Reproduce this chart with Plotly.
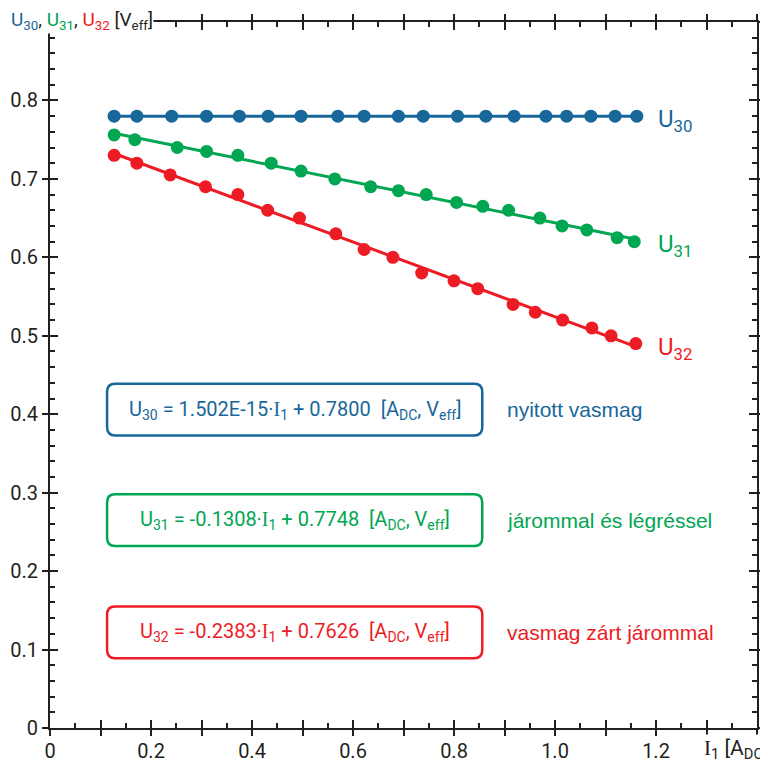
import plotly.graph_objects as go

# ---- data ----
x_u30 = [0.127, 0.172, 0.241, 0.310, 0.375, 0.432, 0.497, 0.570, 0.622, 0.690,
         0.739, 0.807, 0.863, 0.919, 0.982, 1.023, 1.071, 1.119, 1.162]
y_u30 = [0.780] * 19
x_u31 = [0.127, 0.168, 0.252, 0.310, 0.372, 0.438, 0.497, 0.564, 0.635, 0.690,
         0.745, 0.805, 0.857, 0.908, 0.970, 1.014, 1.063, 1.123, 1.157]
y_u31 = [0.756, 0.750, 0.740, 0.735, 0.730, 0.720, 0.710, 0.700, 0.690, 0.685,
         0.680, 0.670, 0.665, 0.660, 0.650, 0.640, 0.635, 0.625, 0.620]
x_u32 = [0.127, 0.172, 0.238, 0.308, 0.372, 0.431, 0.494, 0.566, 0.622, 0.679,
         0.736, 0.800, 0.847, 0.917, 0.961, 1.015, 1.073, 1.111, 1.160]
y_u32 = [0.730, 0.720, 0.705, 0.690, 0.680, 0.660, 0.650, 0.630, 0.610, 0.600,
         0.580, 0.570, 0.560, 0.540, 0.530, 0.520, 0.510, 0.500, 0.490]

series_names = ["30", "31", "32"]
slopes = [1.502e-15, -0.1308, -0.2383]
intercepts = [0.7800, 0.7748, 0.7626]
slope_text = ["1.502E-15", "-0.1308", "-0.2383"]
intercept_text = ["0.7800", "0.7748", "0.7626"]
descriptions = ["nyitott vasmag", "járommal és légréssel", "vasmag zárt járommal"]

x_tickvals = [0, 0.1, 0.2, 0.3, 0.4, 0.5, 0.6, 0.7, 0.8, 0.9, 1.0, 1.1, 1.2, 1.3, 1.4]
x_ticktext = ["0", "", "0.2", "", "0.4", "", "0.6", "", "0.8", "", "1.0", "", "1.2", "", ""]
y_tickvals = [0, 0.1, 0.2, 0.3, 0.4, 0.5, 0.6, 0.7, 0.8, 0.9]
y_ticktext = ["0", "0.1", "0.2", "0.3", "0.4", "0.5", "0.6", "0.7", "0.8", ""]

colors = ["#17679a", "#00a651", "#ed1c24"]
AX = "#231f20"
FONT = "Roboto, Lato, sans-serif"
LABFONT = "Liberation Sans, Arial, sans-serif"
SERIF_I = "<span style='font-family:Liberation Serif, DejaVu Serif, serif'>I</span>"

xs = [x_u30, x_u31, x_u32]
ys = [y_u30, y_u31, y_u32]

fig = go.Figure()
for i in range(3):
    x0, x1 = min(xs[i]), max(xs[i])
    fig.add_trace(go.Scatter(
        x=[x0, x1], y=[slopes[i] * x0 + intercepts[i], slopes[i] * x1 + intercepts[i]],
        mode="lines", line=dict(color=colors[i], width=3), showlegend=False,
        hoverinfo="skip"))
    fig.add_trace(go.Scatter(
        x=xs[i], y=ys[i], mode="markers",
        marker=dict(color=colors[i], size=13), showlegend=False,
        name="U" + series_names[i]))

# empty traces to host the overlay tick axes
fig.add_trace(go.Scatter(x=[], y=[], xaxis="x2", yaxis="y2", showlegend=False))
fig.add_trace(go.Scatter(x=[], y=[], xaxis="x3", yaxis="y3", showlegend=False))

common_x = dict(range=[0, 1.4], showgrid=False, zeroline=False, tickvals=x_tickvals,
                automargin=False)
common_y = dict(range=[0, 0.9], showgrid=False, zeroline=False, tickvals=y_tickvals,
                automargin=False)

# page body has an 8px margin, so the figure is 8px smaller and margins compensate
fig.update_layout(
    width=760, height=758,
    margin=dict(l=42, r=11, t=14, b=38),
    plot_bgcolor="white", paper_bgcolor="white",
    font=dict(family=FONT, size=20, color=AX),
    xaxis=dict(**common_x, ticktext=x_ticktext, showline=True, linecolor=AX, linewidth=2,
               mirror="allticks", ticks="inside", ticklen=8, tickwidth=2, tickcolor=AX,
               minor=dict(dtick=0.05, ticks="inside", ticklen=5, tickwidth=2, tickcolor=AX),
               tickfont=dict(size=20, family=FONT, color=AX), ticklabelstandoff=4),
    yaxis=dict(**common_y, ticktext=y_ticktext, showline=True, linecolor=AX, linewidth=2,
               mirror="allticks", ticks="inside", ticklen=8, tickwidth=2, tickcolor=AX,
               minor=dict(dtick=0.02, ticks="inside", ticklen=5, tickwidth=2, tickcolor=AX),
               tickfont=dict(size=20, family=FONT, color=AX), ticklabelstandoff=6),
    xaxis2=dict(**common_x, overlaying="x", anchor="y2", side="bottom", ticks="outside",
                ticklen=7, tickwidth=2, tickcolor=AX, showticklabels=False, showline=False),
    yaxis2=dict(**common_y, overlaying="y", anchor="x2", side="left", ticks="outside",
                ticklen=7, tickwidth=2, tickcolor=AX, showticklabels=False, showline=False),
    xaxis3=dict(**common_x, overlaying="x", anchor="y3", side="top", ticks="outside",
                ticklen=7, tickwidth=2, tickcolor=AX, showticklabels=False, showline=False),
    yaxis3=dict(**common_y, overlaying="y", anchor="x3", side="right", ticks="outside",
                ticklen=7, tickwidth=2, tickcolor=AX, showticklabels=False, showline=False),
)

ann = []
# y axis title (top-left)
title_txt = ("<span style='color:%s'>U<sub>30</sub></span>, "
             "<span style='color:%s'>U<sub>31</sub></span>, "
             "<span style='color:%s'>U<sub>32</sub></span> [V<sub>eff</sub>]"
             % (colors[0], colors[1], colors[2]))
ann.append(dict(text=title_txt, xref="paper", yref="paper", x=-0.0566, y=1.002,
                xanchor="left", yanchor="middle", showarrow=False, bgcolor="white",
                font=dict(size=19, family=FONT, color=AX), borderpad=0))
# x axis title (bottom-right)
ann.append(dict(text=SERIF_I + "<sub>1</sub> [A<sub>DC</sub>]", xref="paper", yref="paper",
                x=0.922, y=-0.031, xanchor="left", yanchor="middle", showarrow=False,
                bgcolor="white", font=dict(size=21, family=FONT, color=AX)))

# rounded equation boxes (layout decoration, in axis units)
box_x0, box_x1 = 0.113, 0.856
box_half_h = 0.033
rx, ry = 0.016, 0.0105

right_y = [0.775, 0.615, 0.484]
box_y = [0.406, 0.265, 0.122]
shapes = []
for i in range(3):
    ann.append(dict(text="U<sub>%s</sub>" % series_names[i], x=1.2, y=right_y[i],
                    xanchor="left", yanchor="middle", showarrow=False,
                    font=dict(size=24, family=FONT, color=colors[i])))
    eq = ("U<sub>%s</sub> = %s·%s<sub>1</sub> + %s  [A<sub>DC</sub>, V<sub>eff</sub>]"
          % (series_names[i], slope_text[i], SERIF_I, intercept_text[i]))
    ann.append(dict(text=eq, x=(box_x0 + box_x1) / 2, y=box_y[i], xanchor="center",
                    yanchor="middle", showarrow=False,
                    font=dict(size=20, family=FONT, color=colors[i])))
    ann.append(dict(text=descriptions[i], x=0.9, y=box_y[i], xanchor="left",
                    yanchor="middle", showarrow=False,
                    font=dict(size=21, family=LABFONT, color=colors[i])))
    y0, y1 = box_y[i] - box_half_h, box_y[i] + box_half_h
    p = (f"M {box_x0+rx},{y0} L {box_x1-rx},{y0} Q {box_x1},{y0} {box_x1},{y0+ry} "
         f"L {box_x1},{y1-ry} Q {box_x1},{y1} {box_x1-rx},{y1} "
         f"L {box_x0+rx},{y1} Q {box_x0},{y1} {box_x0},{y1-ry} "
         f"L {box_x0},{y0+ry} Q {box_x0},{y0} {box_x0+rx},{y0} Z")
    shapes.append(dict(type="path", path=p, xref="x", yref="y",
                       line=dict(color=colors[i], width=2.5), layer="below"))

fig.update_layout(annotations=ann, shapes=shapes)
fig.write_html("out.html")
